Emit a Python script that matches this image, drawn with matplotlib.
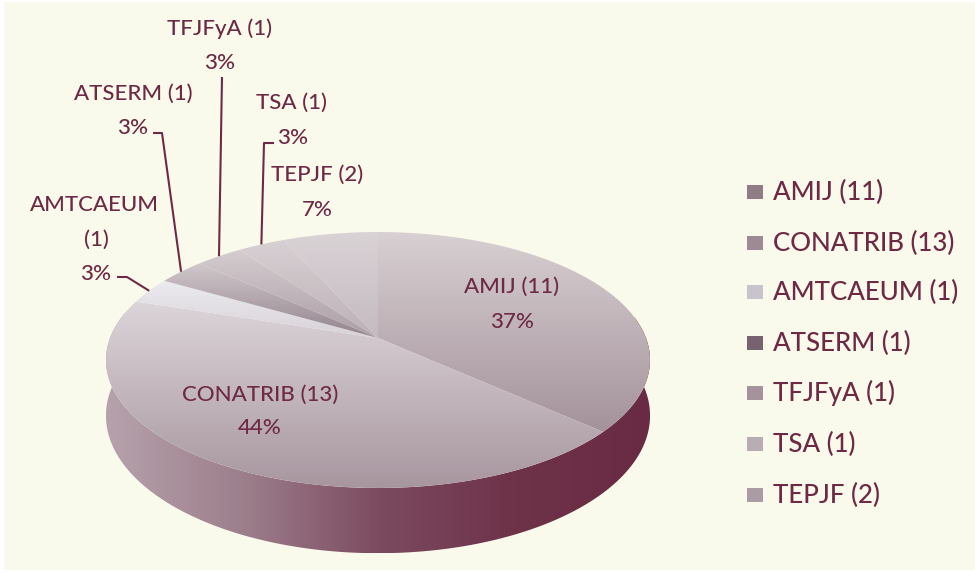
import numpy as np
import matplotlib
matplotlib.use("Agg")
import matplotlib.pyplot as plt
from matplotlib.colors import LinearSegmentedColormap
from matplotlib.patches import Polygon, Rectangle

nomes = ["AMIJ", "CONATRIB", "AMTCAEUM", "ATSERM", "TFJFyA", "TSA", "TEPJF"]
valores = [11, 13, 1, 1, 1, 1, 2]
percent = [37, 44, 3, 3, 3, 3, 7]

# cor do topo de cada fatia (claro, escuro)
cores_topo = [("#d8d0d3", "#a4929a"), ("#dcd5d9", "#a8969f"), ("#ecebf0", "#d8d2d8"),
              ("#d0c8cb", "#93838d"), ("#d5cdd0", "#ab9da5"), ("#d8d1d4", "#bcb0b6"),
              ("#dad3d6", "#c4bac0")]
cores_leg = ["#8f7c87", "#9c8a94", "#c9c4cc", "#77636f", "#a4939d", "#b9adb5", "#aa9ca4"]
cor_txt = "#6e2a45"
fundo = "#fafaec"

plt.rcParams["font.family"] = ["Lato", "DejaVu Sans"]

cx, cy = 378, 338
rx, sy, p = 268, 124.2, 0.172


def borda(theta):
    # ponto na borda do topo, com perspetiva
    t = np.radians(theta)
    w = 1 + p * np.cos(t)
    return cx + rx * np.sin(t) / w, cy - sy * np.cos(t) / w, w


def gradiente(ax, pontos, cores, vertical=True):
    pontos = np.array(pontos)
    x0, x1 = pontos[:, 0].min(), pontos[:, 0].max()
    y0, y1 = pontos[:, 1].min(), pontos[:, 1].max()
    cmap = LinearSegmentedColormap.from_list("g", cores)
    g = np.linspace(0, 1, 256)
    g = g.reshape(-1, 1) if vertical else g.reshape(1, -1)
    im = ax.imshow(g, cmap=cmap, extent=(x0, x1, y1, y0), aspect="auto", zorder=2, interpolation="bilinear")
    poly = Polygon(pontos, closed=True, transform=ax.transData, fc="none", ec="none")
    ax.add_patch(poly)
    im.set_clip_path(poly)


fig = plt.figure(figsize=(9.75, 5.74), dpi=100, facecolor="white")
ax = fig.add_axes([0, 0, 1, 1])
ax.add_patch(Rectangle((4, 2), 971, 568, fc=fundo, ec="none", zorder=0))

# lado do cilindro
th = np.linspace(80, 282, 200)
xs, ys, ws = borda(th)
lado = list(zip(xs, ys)) + list(zip(xs[::-1], (ys + 54 / ws)[::-1]))
gradiente(ax, lado, ["#b6a2ac", "#9d7f8c", "#7c4b60", "#6e3249", "#692b44"], vertical=False)

# fatias do topo
total = sum(valores)
ang = 0
angulos = []
for i, v in enumerate(valores):
    fim = ang + 360 * v / total
    t = np.linspace(ang, fim, 60)
    xs, ys, _ = borda(t)
    pts = [(cx, cy)] + list(zip(xs, ys))
    gradiente(ax, pts, [cores_topo[i][0], cores_topo[i][1]])
    angulos.append((ang + fim) / 2)
    ang = fim

# etiquetas
fs = 16
pt = dict(color=cor_txt, fontsize=fs, ha="center", va="center", zorder=5, fontweight=500)
ax.text(512, 287, "AMIJ (11)", **pt)
ax.text(512, 322, "%d%%" % percent[0], **pt)
ax.text(260, 395, "CONATRIB (13)", **pt)
ax.text(260, 428, "%d%%" % percent[1], **pt)
ax.text(94, 205, "AMTCAEUM", **pt)
ax.text(96, 240, "(1)", **pt)
ax.text(96, 274, "%d%%" % percent[2], **pt)
ax.text(133, 94, "ATSERM (1)", **pt)
ax.text(133, 128, "%d%%" % percent[3], **pt)
ax.text(220, 29, "TFJFyA (1)", **pt)
ax.text(220, 63, "%d%%" % percent[4], **pt)
ax.text(292, 103, "TSA (1)", **pt)
ax.text(293, 138, "%d%%" % percent[5], **pt)
ax.text(317, 175, "TEPJF (2)", **pt)
ax.text(317, 210, "%d%%" % percent[6], **pt)

# linhas de ligacao, acabam na borda da fatia
inicio = {2: [(117, 277), (127, 277)], 3: [(153, 133), (162, 133)], 4: [(222, 77)], 5: [(274, 143), (264, 143)]}
for i, pts in inicio.items():
    x_f, y_f, _ = borda(angulos[i])
    xx = [q[0] for q in pts] + [x_f]
    yy = [q[1] for q in pts] + [y_f]
    ax.plot(xx, yy, color=cor_txt, lw=1.5, zorder=4, solid_capstyle="butt")

# legenda
leg_y = [192, 243, 292, 343, 393, 444, 495]
for i in range(len(nomes)):
    ax.add_patch(Rectangle((747, leg_y[i] - 7), 16, 14, fc=cores_leg[i], ec="none"))
    ax.text(773, leg_y[i], "%s (%d)" % (nomes[i], valores[i]), color=cor_txt, fontsize=18.6, ha="left", va="center", fontweight=500)

ax.set_xlim(0, 975)
ax.set_ylim(574, 0)
ax.axis("off")
fig.savefig("out.png", dpi=100, facecolor="white")
